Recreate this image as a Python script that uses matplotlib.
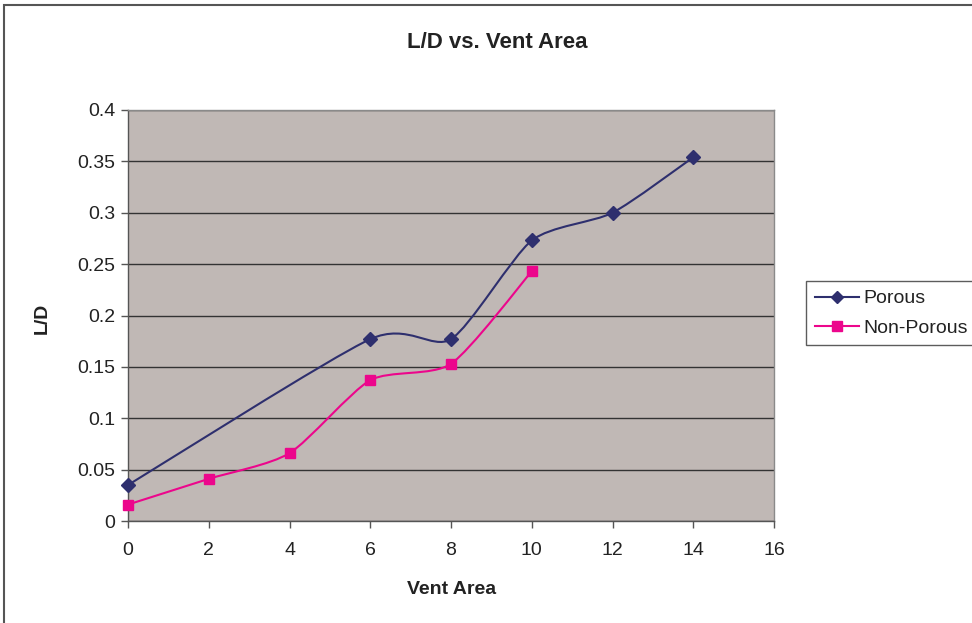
import numpy as np
import matplotlib
matplotlib.use("Agg")
import matplotlib.pyplot as plt
from matplotlib.path import Path
from matplotlib.patches import PathPatch, Rectangle
from matplotlib.lines import Line2D

plt.rcParams['font.family'] = ['Liberation Sans', 'DejaVu Sans']

porous_x = [0, 6, 8, 10, 12, 14]
porous_y = [0.035, 0.177, 0.177, 0.273, 0.300, 0.354]
nonporous_x = [0, 2, 4, 6, 8, 10]
nonporous_y = [0.016, 0.041, 0.066, 0.137, 0.153, 0.243]
x_ticks = [0, 2, 4, 6, 8, 10, 12, 14, 16]
y_ticks = [0, 0.05, 0.1, 0.15, 0.2, 0.25, 0.3, 0.35, 0.4]
y_tick_labels = ['0', '0.05', '0.1', '0.15', '0.2', '0.25', '0.3', '0.35', '0.4']

c_por = '#2E2F6E'
c_non = '#EC068C'


def smooth_path(xs, ys, k=1 / 8.5):
    p = np.column_stack([xs, ys]).astype(float)
    n = len(p)
    verts = [p[0]]
    codes = [Path.MOVETO]
    for i in range(n - 1):
        p0 = p[i - 1] if i > 0 else p[i]
        p3 = p[i + 2] if i + 2 < n else p[i + 1]
        c1 = p[i] + (p[i + 1] - p0) * k
        c2 = p[i + 1] - (p3 - p[i]) * k
        verts += [c1, c2, p[i + 1]]
        codes += [Path.CURVE4] * 3
    return Path(np.array(verts), codes)


fig = plt.figure(figsize=(9.72, 6.23), dpi=100)
fig.patch.set_facecolor('white')
# chart border
fig.patches.append(Rectangle((4 / 972, -0.1), 1.2, (620 - 3) / 623 + 0.1 + 0.001,
                             transform=fig.transFigure, fill=False,
                             edgecolor='#555555', linewidth=1.5))

ax = fig.add_axes([128 / 972, 1 - 521 / 623, (774 - 128) / 972, (521 - 110) / 623])
ax.set_facecolor('#C0B8B5')
ax.set_xlim(0, 16)
ax.set_ylim(0, 0.4)
ax.set_xticks(x_ticks)
ax.set_yticks(y_ticks)
ax.set_yticklabels(y_tick_labels)
ax.yaxis.grid(True, color='#333333', linewidth=1.0)
ax.set_axisbelow(True)
for s in ['top', 'right']:
    ax.spines[s].set_color('#8A8A8A')
    ax.spines[s].set_linewidth(1.0)
for s in ['left', 'bottom']:
    ax.spines[s].set_color('#555555')
    ax.spines[s].set_linewidth(1.0)
ax.tick_params(direction='out', length=5, width=1, color='#555555',
               labelsize=14, labelcolor='#222222')
ax.tick_params(axis='x', pad=10)
ax.tick_params(axis='y', pad=4)

for xs, ys, col in [(porous_x, porous_y, c_por), (nonporous_x, nonporous_y, c_non)]:
    ax.add_patch(PathPatch(smooth_path(xs, ys), facecolor='none', edgecolor=col,
                           linewidth=1.5, clip_on=False, zorder=3))

ax.plot(porous_x, porous_y, linestyle='none', marker='D', markersize=7,
        color=c_por, zorder=4, clip_on=False)
ax.plot(nonporous_x, nonporous_y, linestyle='none', marker='s', markersize=7.5,
        color=c_non, zorder=4, clip_on=False)

fig.text(497 / 972, 1 - 42 / 623, 'L/D vs. Vent Area', ha='center', va='center',
         fontsize=16, fontweight='bold', color='#222222')
fig.text(452 / 972, 1 - 589 / 623, 'Vent Area', ha='center', va='center',
         fontsize=14, fontweight='bold', color='#222222')
fig.text(42 / 972, 1 - 318 / 623, 'L/D', ha='center', va='center', rotation=90,
         fontsize=14, fontweight='bold', color='#222222')

handles = [Line2D([], [], color=c_por, marker='D', markersize=6, linewidth=1.5),
           Line2D([], [], color=c_non, marker='s', markersize=6.5, linewidth=1.5)]
leg = fig.legend(handles, ['Porous', 'Non-Porous'], loc='upper left',
                 bbox_to_anchor=(806 / 972, 1 - 281 / 623), frameon=True,
                 fancybox=False, edgecolor='#333333', fontsize=14,
                 handlelength=2.3, handletextpad=0.2, borderpad=0.45,
                 labelspacing=0.6, borderaxespad=0)
leg.get_frame().set_linewidth(1.0)
for t in leg.get_texts():
    t.set_color('#222222')

fig.savefig('out.png', dpi=100, facecolor='white')
